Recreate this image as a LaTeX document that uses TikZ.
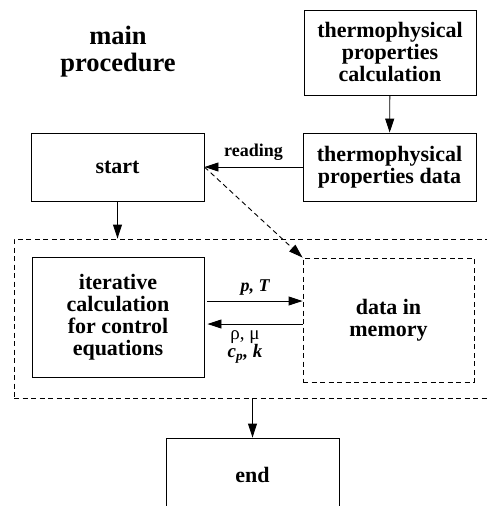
\documentclass[tikz,border=0pt]{standalone}
\usepackage{fontspec}
\setmainfont{Liberation Serif}
\usetikzlibrary{arrows.meta}
\begin{document}
\begin{tikzpicture}[x=1pt,y=-1pt,
  line width=0.9pt,
  box/.style={draw, rectangle, inner sep=0pt, align=center,
    font=\fontsize{22}{22}\selectfont\bfseries},
  dbox/.style={box, dashed, dash pattern=on 5pt off 3.5pt},
  arr/.style={-{Triangle[length=14pt,width=9pt]}},
  lbl/.style={font=\fontsize{18}{18}\selectfont\bfseries, inner sep=0pt}]
\useasboundingbox (0,0) rectangle (487,506);
\clip (0,0) rectangle (487,506);
\node[font=\fontsize{26.5}{27}\selectfont\bfseries, align=center] (title) at (118,52) {main\\procedure};
\node[box, minimum width=172pt, minimum height=85pt] (tpc) at (390,52.5) {thermophysical\\properties\\calculation};
\node[box, minimum width=173pt, minimum height=68pt] (tpd) at (389.5,167) {thermophysical\\properties data};
\node[box, minimum width=173pt, minimum height=68pt] (start) at (117.5,167) {start};
\node[dbox, minimum width=490pt, minimum height=159pt] (outer) at (259,318.5) {};
\node[box, minimum width=172pt, minimum height=120pt] (iter) at (118,317) {iterative\\calculation\\for control\\equations};
\node[dbox, minimum width=171pt, minimum height=124pt] (mem) at (388.5,320) {data in\\memory};
\node[box, minimum width=173pt, minimum height=74pt] (end) at (252.5,475) {end};
\draw[arr] (tpc) -- (tpd);
\draw[arr] (tpd.west) -- node[lbl, above=6pt] {reading} (start.east);
\draw[arr, dashed, dash pattern=on 5pt off 3.5pt] (start.east) -- (mem.north west);
\draw[arr] (start.south) -- (start.south |- outer.north);
\draw[arr] (end.north |- outer.south) -- (end.north);
\coordinate (a1) at ([yshift=16pt]iter.east);
\coordinate (a2) at ([yshift=-7pt]iter.east);
\draw[arr] ([xshift=3pt]a1) -- node[lbl, above=5pt] {\itshape p, T} (a1 -| mem.west);
\draw[arr] (a2 -| mem.west) -- ([xshift=3pt]a2);
\node[lbl, align=center, font=\fontsize{19}{17}\selectfont] (rho) at (245,347) {ρ, μ\\\bfseries\itshape c\textsubscript{p}, k};
\end{tikzpicture}
\end{document}
